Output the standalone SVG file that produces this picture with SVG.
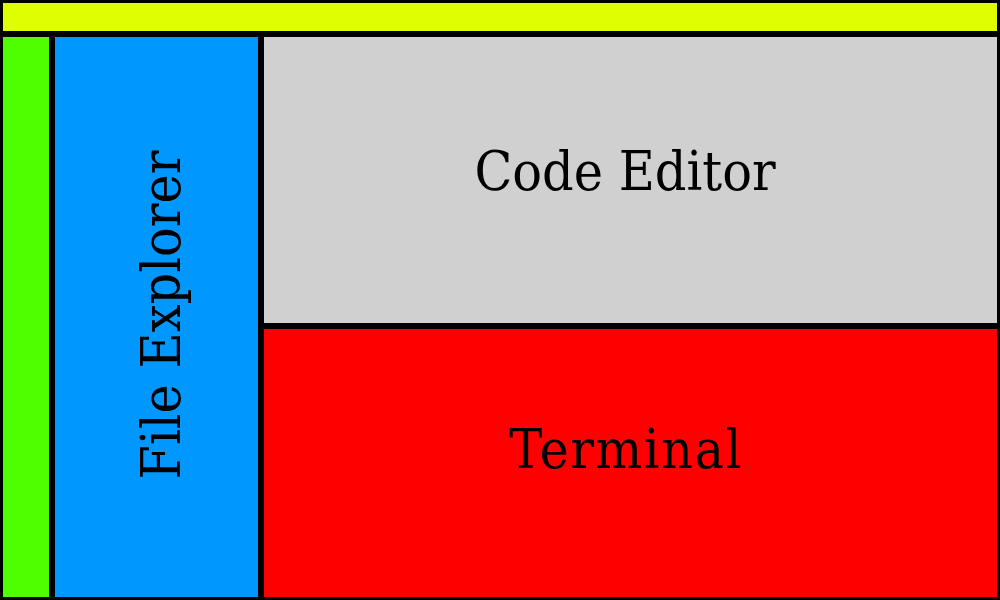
<svg xmlns="http://www.w3.org/2000/svg" width="1000" height="600" viewBox="0 0 1000 600">
  <style>
    .label { font-family: "DejaVu Serif", serif; font-stretch: condensed; font-size: 55px; fill: #000; text-anchor: middle; }
  </style>
  <!-- black frame shows through the gaps between panes -->
  <rect x="0" y="0" width="1000" height="600" fill="#000"/>
  <g id="title-bar">
    <rect x="3" y="3" width="994" height="28" fill="#dfff00"/>
  </g>
  <g id="activity-bar">
    <rect x="3" y="37" width="46" height="560" fill="#4fff00"/>
  </g>
  <g id="file-explorer">
    <rect x="55" y="37" width="203" height="560" fill="#0098ff"/>
    <text class="label" transform="translate(180 315) rotate(-90)" x="0" y="0">File Explorer</text>
  </g>
  <g id="code-editor">
    <rect x="264" y="37" width="733" height="286" fill="#d0d0d0"/>
    <text class="label" x="625" y="190">Code Editor</text>
  </g>
  <g id="terminal">
    <rect x="264" y="329" width="733" height="268" fill="#ff0000"/>
    <text class="label" x="626" y="468" letter-spacing="1.5">Terminal</text>
  </g>
  <g id="connectors"/>
</svg>
